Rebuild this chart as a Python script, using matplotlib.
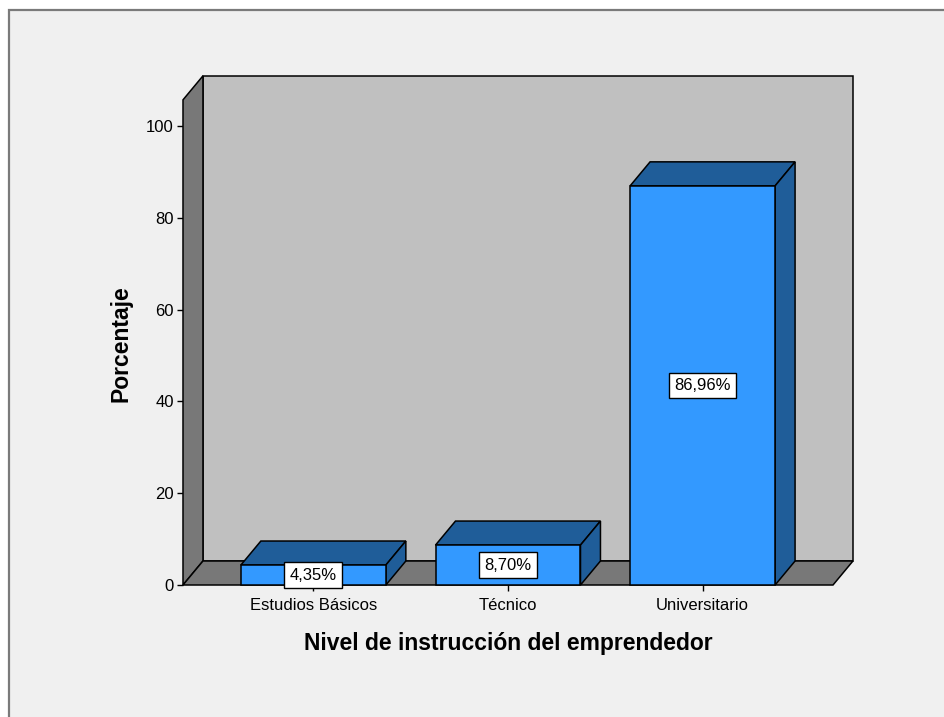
import matplotlib.pyplot as plt
from matplotlib.patches import Polygon, Rectangle

plt.rcParams['font.family'] = ['Liberation Sans', 'DejaVu Sans']

categories = ['Estudios Básicos', 'Técnico', 'Universitario']
percentages = [4.35, 8.70, 86.96]
value_labels = ['4,35%', '8,70%', '86,96%']
yticks = [0, 20, 40, 60, 80, 100]

# 3d look: depth offset in data units, wall height
DX, DY = 0.1026, 5.23
BAR_W = 0.745
X0, X1 = -0.67, 2.67
WALL_TOP = 105.7

FRONT = '#3399ff'
DARK = '#1f5d99'
WALL = '#c0c0c0'
SHADE = '#787878'

fig = plt.figure(figsize=(9.44, 7.17), dpi=100)
fig.patch.set_facecolor('white')
fig.patches.append(Rectangle((9 / 944, -0.02), 1.0, 707 / 717 + 0.02,
                             transform=fig.transFigure, facecolor='#f0f0f0',
                             edgecolor='#7a7a7a', linewidth=1.6, zorder=-5))

ax = fig.add_axes([183 / 944, 132 / 717, 650 / 944, 459 / 717])
ax.set_xlim(X0, X1)
ax.set_ylim(0, 100)
ax.patch.set_visible(False)
for s in ax.spines.values():
    s.set_visible(False)


def face(pts, color, z):
    ax.add_patch(Polygon(pts, closed=True, facecolor=color, edgecolor='black',
                         linewidth=1.1, clip_on=False, zorder=z))


# walls and floor
face([(X0 + DX, DY), (X1 + DX, DY), (X1 + DX, WALL_TOP + DY), (X0 + DX, WALL_TOP + DY)], WALL, 1)
face([(X0, 0), (X0, WALL_TOP), (X0 + DX, WALL_TOP + DY), (X0 + DX, DY)], SHADE, 2)
face([(X0, 0), (X1, 0), (X1 + DX, DY), (X0 + DX, DY)], SHADE, 2)

for i, (v, lab) in enumerate(zip(percentages, value_labels)):
    l, r = i - BAR_W / 2, i + BAR_W / 2
    face([(l, v), (r, v), (r + DX, v + DY), (l + DX, v + DY)], DARK, 3)
    face([(r, 0), (r + DX, DY), (r + DX, v + DY), (r, v)], DARK, 3)
    face([(l, 0), (r, 0), (r, v), (l, v)], FRONT, 4)
    ax.text(i, v / 2, lab, ha='center', va='center', fontsize=12, zorder=6,
            bbox=dict(boxstyle='square,pad=0.32', facecolor='white',
                      edgecolor='black', linewidth=1.0))

ax.set_yticks(yticks)
ax.set_xticks(range(len(categories)))
ax.set_xticklabels(categories)
ax.tick_params(direction='out', length=4.5, width=1, labelsize=12, pad=2)
ax.tick_params(axis='x', pad=5)

ax.set_ylabel('Porcentaje', fontsize=16.5, fontweight='bold')
ax.yaxis.set_label_coords(-0.078, 0.526)
ax.set_xlabel('Nivel de instrucción del emprendedor', fontsize=16.5, fontweight='bold')
ax.xaxis.set_label_coords(0.5, -0.102)

fig.savefig('out.png', dpi=100)
